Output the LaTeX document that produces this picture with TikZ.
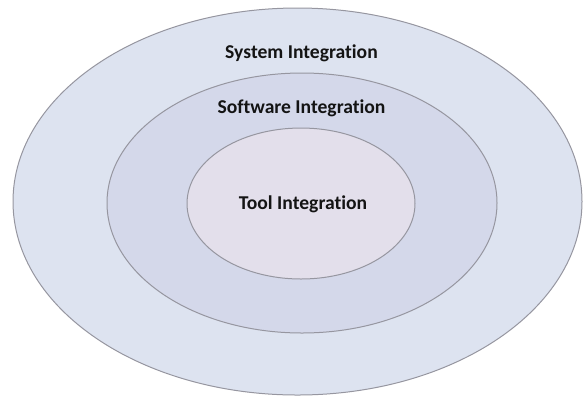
\documentclass[tikz,border=0pt]{standalone}
\usepackage{fontspec}
\setmainfont[Ligatures=NoCommon, RawFeature=-liga]{Carlito}
\usetikzlibrary{positioning, shapes.geometric}

\definecolor{ringout}{RGB}{221,227,240}
\definecolor{ringmid}{RGB}{212,216,234}
\definecolor{ringin}{RGB}{227,223,235}
\definecolor{ringline}{RGB}{150,150,160}
\definecolor{lbltext}{RGB}{20,20,20}

\begin{document}
\begin{tikzpicture}[
  x=0.5pt, y=-0.5pt,
  ring/.style={ellipse, draw=ringline, line width=0.5pt,
               inner sep=0pt, outer sep=0pt},
  lbl/.style={anchor=base, text=lbltext,
              font=\fontsize{9.8}{12}\selectfont\bfseries},
]
\useasboundingbox (0,0) rectangle (583,398);

% rings
\node[ring, fill=ringout, minimum width=284.5pt, minimum height=193.5pt]
  (outer) at (297.5,201.5) {};
\node[ring, fill=ringmid, minimum width=195pt, minimum height=130pt]
  (middle) at (302,203) {};
\node[ring, fill=ringin, minimum width=114pt, minimum height=75.5pt]
  (inner) at (301,203.5) {};

% labels
\node[lbl] (sysl) at (301.5,58) {System Integration};
\node[lbl] (softl) at (301.5,113) {Software Integration};
\node[lbl] (tooll) at (303,209.5) {Tool Integration};

\end{tikzpicture}
\end{document}
